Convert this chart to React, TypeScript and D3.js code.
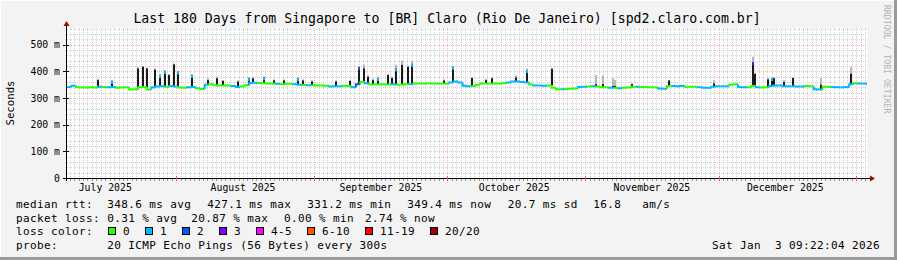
import React from 'react';
import * as d3 from 'd3';

const DAY = 86400000;
const END = Date.UTC(2026, 0, 3, 9, 22, 4);
const START = END - 180 * DAY;

const titleText = 'Last 180 Days from Singapore to [BR] Claro (Rio De Janeiro) [spd2.claro.com.br]';
const yTickValues = [0, 0.1, 0.2, 0.3, 0.4, 0.5];
const yTickLabels = ['0', '100 m', '200 m', '300 m', '400 m', '500 m'];
const monthLabels = ['July 2025', 'August 2025', 'September 2025', 'October 2025', 'November 2025', 'December 2025'];

// median rtt per day (ms)
const medianMs = [
  341, 346, 340, 339, 339, 340, 339, 342, 341, 340,
  341, 338, 339, 340, 332, 333, 340, 341, 332, 340,
  343, 344, 342, 345, 343, 339, 338, 340, 341, 337,
  334, 350, 352, 348, 347, 347, 347, 345, 341, 343,
  348, 356, 357, 356, 355, 354, 354, 353, 352, 353,
  353, 352, 350, 349, 348, 348, 347, 347, 346, 343,
  344, 344, 346, 345, 340, 352, 360, 355, 351, 351,
  351, 352, 351, 352, 350, 350, 352, 352, 354, 354,
  354, 355, 354, 354, 354, 354, 358, 362, 358, 346,
  344, 345, 350, 354, 354, 354, 354, 354, 356, 358,
  362, 362, 360, 358, 351, 347, 347, 346, 347, 338,
  333, 333, 334, 335, 336, 341, 342, 343, 344, 343,
  340, 340, 338, 338, 337, 338, 339, 342, 342, 341,
  341, 340, 340, 336, 335, 345, 345, 344, 345, 342,
  342, 342, 340, 338, 338, 342, 344, 344, 344, 350,
  352, 341, 340, 340, 345, 340, 339, 340, 345, 347,
  347, 344, 344, 344, 343, 343, 345, 344, 333, 332,
  342, 342, 341, 340, 340, 341, 352, 355, 354, 354,
];

// loss class per day (index into lossLabels)
const lossClass = [
  1, 1, 0, 0, 0, 0, 0, 1, 0, 1,
  1, 0, 0, 0, 0, 0, 0, 0, 0, 1,
  1, 1, 0, 1, 1, 0, 0, 1, 1, 0,
  0, 1, 0, 0, 0, 0, 0, 1, 1, 0,
  0, 1, 1, 0, 0, 0, 0, 1, 0, 0,
  0, 1, 1, 0, 1, 0, 0, 0, 0, 1,
  1, 1, 0, 0, 1, 2, 0, 1, 0, 0,
  0, 0, 0, 1, 0, 0, 0, 1, 0, 0,
  0, 0, 0, 0, 0, 0, 1, 1, 1, 1,
  1, 0, 0, 0, 0, 0, 0, 0, 0, 1,
  1, 1, 1, 1, 0, 1, 1, 1, 0, 0,
  0, 1, 0, 0, 0, 1, 1, 0, 1, 0,
  0, 0, 1, 0, 1, 0, 0, 0, 1, 0,
  0, 0, 0, 1, 1, 0, 1, 1, 1, 0,
  0, 0, 1, 1, 1, 1, 1, 1, 1, 0,
  0, 1, 1, 0, 0, 1, 0, 0, 1, 1,
  1, 1, 1, 1, 1, 1, 0, 0, 1, 1,
  0, 0, 1, 1, 1, 1, 1, 0, 1, 1,
];

// smoke spikes: day offset, dense top (ms), light top (ms), median cap class (-1 none)
const spikeDay = [6.7, 9.9, 15.7, 16.8, 17.7, 19.5, 20.8, 21.9, 22.8, 23.9, 24.7, 27.9, 31.4, 33.6, 34.8, 38.2, 40.8, 41.7, 44.0, 46.4, 48.7, 51.7, 52.8, 55.0, 60.3, 63.5, 65.4, 66.5, 67.4, 68.6, 69.8, 71.9, 72.9, 73.8, 75.2, 76.6, 77.4, 84.5, 86.7, 90.9, 94.0, 95.3, 100.9, 103.2, 108.8, 118.8, 120.3, 122.6, 123.0, 126.9, 135.2, 145.3, 154.1, 154.6, 157.6, 158.4, 158.8, 161.2, 163.2, 169.4, 176.2];
const spikeTopMs = [367, 364, 411, 417, 411, 407, 386, 401, 386, 426, 399, 386, 367, 374, 364, 362, 374, 374, 377, 366, 366, 374, 366, 362, 362, 364, 416, 411, 380, 367, 375, 386, 375, 411, 424, 417, 428, 366, 417, 375, 367, 374, 377, 405, 410, 352, 352, 345, 345, 352, 366, 355, 435, 390, 370, 375, 374, 360, 375, 350, 391];
const spikeHazeMs = [372, 368, 415, 420, 414, 410, 390, 405, 390, 430, 402, 390, 375, 380, 368, 366, 378, 378, 380, 370, 370, 378, 370, 366, 366, 368, 420, 425, 385, 372, 380, 390, 380, 425, 440, 422, 440, 370, 420, 378, 372, 378, 385, 410, 412, 386, 385, 375, 367, 355, 368, 367, 455, 395, 375, 378, 378, 367, 378, 375, 416];
const spikeCap = [-1, 1, -1, -1, -1, -1, 1, 1, -1, -1, 1, 1, -1, -1, -1, -1, 1, -1, 1, -1, -1, 1, -1, -1, -1, -1, 2, -1, -1, -1, 1, -1, -1, 1, -1, -1, 1, -1, 1, -1, -1, -1, -1, 1, -1, -1, -1, -1, -1, -1, -1, -1, 3, -1, -1, 1, -1, -1, -1, -1, -1];

const lossLabels = ['0', '1', '2', '3', '4-5', '6-10', '11-19', '20/20'];
const lossColors = ['#26ff00', '#00b8ff', '#0059ff', '#7e00ff', '#ff00ff', '#ff5500', '#ff0000', '#a10000'];

const rttLabel = 'median rtt:';
const rttItems = ['348.6 ms avg', '427.1 ms max', '331.2 ms min', '349.4 ms now', '20.7 ms sd', '16.8', 'am/s'];
const lossLabel = 'packet loss:';
const lossItems = ['0.31 % avg', '20.87 % max', '0.00 % min', '2.74 % now'];
const colorLabel = 'loss color:';
const probeLabel = 'probe:';
const probeText = '20 ICMP Echo Pings (56 Bytes) every 300s';
const dateText = 'Sat Jan  3 09:22:04 2026';
const sideText = 'RRDTOOL / TOBI OETIKER';
const yAxisTitle = 'Seconds';

const MONO = '"DejaVu Sans Mono", monospace';

export default function App() {
  const W = 897, H = 260;
  const left = 67, right = 867, top = 28, bottom = 178;
  const x = d3.scaleTime().domain([new Date(START), new Date(END)]).range([left, right]);
  const y = d3.scaleLinear().domain([0, 0.5625]).range([bottom, top]);
  const px = (v: number) => Math.round(v) + 0.5;
  const dayDate = (d: number) => new Date(START + d * DAY);

  const minorY = d3.range(0, 0.5625, 0.02).filter((v) => Math.abs(v / 0.1 - Math.round(v / 0.1)) > 1e-6);
  const majorY = yTickValues.slice(1);
  const minorX = d3.utcDay.range(new Date(START), new Date(END));
  const majorX = d3.utcMonth.range(new Date(START), new Date(END));
  const labelMonths = d3.utcMonth.range(d3.utcMonth.floor(new Date(START)), new Date(END));

  const medianPaths = medianMs.map((m, i) => {
    const x0 = x(dayDate(i));
    const x1 = x(dayDate(i + 1));
    const yPrev = y((i > 0 ? medianMs[i - 1] : m) / 1000);
    const yi = y(m / 1000);
    return { d: `M${x0},${yPrev}V${yi}H${x1}`, c: lossColors[lossClass[i]] };
  });

  const spikes = spikeDay.map((d, i) => {
    const base = medianMs[Math.min(179, Math.floor(d))];
    const sx = Math.round(x(dayDate(d)));
    return {
      x: sx,
      yTop: y(spikeTopMs[i] / 1000),
      yHaze: y(spikeHazeMs[i] / 1000),
      yBase: y(base / 1000),
      cap: spikeCap[i],
    };
  });

  const boxes: { bx: number; tx: number; label: string; color: string }[] = [];
  let bx = 108;
  lossLabels.forEach((lab, i) => {
    const tx = bx + 15;
    boxes.push({ bx, tx, label: lab, color: lossColors[i] });
    bx = tx + lab.length * 7 + 15;
  });

  const legendFont = { fontFamily: MONO, fontSize: 11, letterSpacing: 0.38, fill: '#000', whiteSpace: 'pre' as const };
  const rttX = [107.3, 207.3, 307.3, 407.3, 507.7, 593.3, 642.3];
  const lossX = [107.3, 191.3, 284, 365];

  return (
    <svg width={W} height={H} style={{ position: 'fixed', left: 0, top: 0, display: 'block' }} xmlns="http://www.w3.org/2000/svg">
      <rect x={0} y={0} width={W} height={H} fill="#f3f3f3" />
      <line x1={0} y1={0.5} x2={W} y2={0.5} stroke="#ffffff" />
      <line x1={0.5} y1={0} x2={0.5} y2={H} stroke="#ffffff" />
      <line x1={0} y1={H - 1.5} x2={W} y2={H - 1.5} stroke="#9a9a9a" strokeWidth={3} />
      <line x1={W - 1.5} y1={0} x2={W - 1.5} y2={H} stroke="#9a9a9a" strokeWidth={3} />

      <rect x={left} y={top} width={right - left} height={bottom - top} fill="#ffffff" />

      {minorY.map((v, i) => (
        <line key={'hy' + i} x1={left} x2={right} y1={px(y(v))} y2={px(y(v))} stroke="#d2d2d2" strokeDasharray="1,1" />
      ))}
      {minorX.map((t, i) => (
        <line key={'vx' + i} x1={px(x(t))} x2={px(x(t))} y1={top} y2={bottom} stroke="#d2d2d2" strokeDasharray="1,1" />
      ))}
      {majorY.map((v, i) => (
        <line key={'My' + i} x1={left} x2={right} y1={px(y(v))} y2={px(y(v))} stroke="#f6b4b4" strokeDasharray="1,1" />
      ))}
      {majorX.map((t, i) => (
        <line key={'Mx' + i} x1={px(x(t))} x2={px(x(t))} y1={top} y2={bottom} stroke="#f6b4b4" strokeDasharray="1,1" />
      ))}

      {spikes.map((s, i) => (
        <g key={'sp' + i}>
          <rect x={s.x} y={s.yHaze} width={2} height={Math.max(0, s.yTop - s.yHaze)} fill="#b8b8b8" />
          <rect x={s.x} y={s.yTop} width={2} height={Math.max(0, s.yBase - s.yTop)} fill="#1a1a1a" />
          {s.cap >= 0 && <rect x={s.x} y={s.yTop} width={2} height={3} fill={lossColors[s.cap]} />}
        </g>
      ))}

      {medianPaths.map((p, i) => (
        <path key={'m' + i} d={p.d} stroke={p.c} strokeWidth={2} fill="none" />
      ))}

      <line x1={63} x2={870} y1={bottom + 0.5} y2={bottom + 0.5} stroke="#000" />
      <path d={`M870,${bottom - 2.5}L875,${bottom + 0.5}L870,${bottom + 3.5}Z`} fill="#8b1010" />
      <line x1={left - 0.5} x2={left - 0.5} y1={bottom + 3} y2={24} stroke="#000" />
      <path d={`M${left - 3.5},26L${left - 0.5},21L${left + 2.5},26Z`} fill="#8b1010" />
      {yTickValues.map((v, i) => (
        <line key={'yt' + i} x1={left - 4} x2={left + 2} y1={px(y(v))} y2={px(y(v))} stroke="#000" />
      ))}
      {minorX.map((t, i) => (
        <line key={'xt' + i} x1={px(x(t))} x2={px(x(t))} y1={bottom + 1} y2={bottom + 3} stroke="#999" />
      ))}
      {majorX.map((t, i) => (
        <line key={'xM' + i} x1={px(x(t))} x2={px(x(t))} y1={bottom - 2} y2={bottom + 3} stroke="#e06060" />
      ))}

      {yTickValues.map((v, i) => (
        <text key={'yl' + i} x={60} y={y(v) + 3.5} textAnchor="end" style={{ fontFamily: MONO, fontSize: 9.8, whiteSpace: 'pre' }} fill="#000">
          {yTickLabels[i]}
        </text>
      ))}
      {labelMonths.map((m, i) => (
        <text key={'xl' + i} x={x(d3.utcDay.offset(m, 15))} y={190.5} textAnchor="middle" style={{ fontFamily: MONO, fontSize: 9.8 }} fill="#000">
          {monthLabels[i]}
        </text>
      ))}

      <text x={10} y={103} transform="rotate(-90 10 103)" dy={3.5} textAnchor="middle" style={{ fontFamily: MONO, fontSize: 10.7 }} fill="#000">
        {yAxisTitle}
      </text>
      <text x={887} y={5} transform="rotate(90 887 5)" dy={3} textAnchor="start" style={{ fontFamily: MONO, fontSize: 8.2 }} fill="#b4b4b4">
        {sideText}
      </text>

      <text x={447} y={22.5} textAnchor="middle" style={{ fontFamily: MONO, fontSize: 13.2, whiteSpace: 'pre' }} fill="#000">
        {titleText}
      </text>

      <text x={16} y={208} style={legendFont}>{rttLabel}</text>
      {rttItems.map((t, i) => (
        <text key={'r' + i} x={rttX[i]} y={208} style={legendFont}>{t}</text>
      ))}
      <text x={16} y={221.7} style={legendFont}>{lossLabel}</text>
      {lossItems.map((t, i) => (
        <text key={'l' + i} x={lossX[i]} y={221.7} style={legendFont}>{t}</text>
      ))}
      <text x={16} y={235.3} style={legendFont}>{colorLabel}</text>
      {boxes.map((b, i) => (
        <g key={'b' + i}>
          <rect x={b.bx + 0.5} y={227.5} width={7} height={7} fill={b.color} stroke="#000" />
          <text x={b.tx} y={235.3} style={legendFont}>{b.label}</text>
        </g>
      ))}
      <text x={16} y={249} style={legendFont}>{probeLabel}</text>
      <text x={107.3} y={249} style={legendFont}>{probeText}</text>
      <text x={880} y={249} textAnchor="end" style={legendFont}>{dateText}</text>
    </svg>
  );
}
